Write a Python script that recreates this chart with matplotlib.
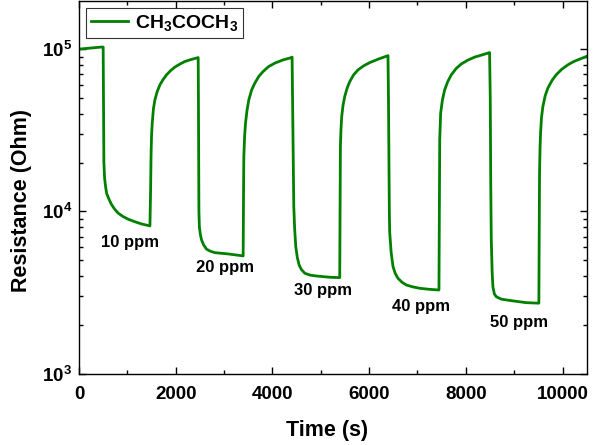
import matplotlib
matplotlib.use("Agg")
import matplotlib.pyplot as plt
from matplotlib.ticker import MultipleLocator, LogLocator, FixedLocator, FixedFormatter, NullFormatter

plt.rcParams["font.family"] = ["Liberation Sans", "DejaVu Sans"]
plt.rcParams["font.weight"] = "bold"
plt.rcParams["mathtext.fontset"] = "custom"
plt.rcParams["mathtext.rm"] = "Liberation Sans:bold"
plt.rcParams["mathtext.bf"] = "Liberation Sans:bold"
plt.rcParams["mathtext.it"] = "Liberation Sans:bold"

# Sensor response to acetone pulses (time in s, resistance in Ohm)
time_s = [
    0, 469, 500, 505, 510, 515, 530, 550, 572, 620, 675, 740, 812, 910, 1019, 1150, 1295, 1467,
    1480, 1490, 1500, 1515, 1540, 1570, 1620, 1673, 1740, 1812, 1900, 1983, 2090, 2190, 2330, 2465,
    2470, 2475, 2480, 2490, 2510, 2535, 2580, 2638, 2720, 2810, 3085, 3395,
    3400, 3405, 3409, 3425, 3444, 3475, 3512, 3570, 3636, 3720, 3808, 3920, 4050, 4220, 4394,
    4407, 4420, 4430, 4442, 4460, 4483, 4515, 4552, 4600, 4669, 4780, 4910, 5186, 5392,
    5398, 5402, 5406, 5418, 5433, 5460, 5495, 5545, 5599, 5680, 5770, 5890, 6012, 6200, 6390,
    6400, 6410, 6418, 6425, 6455, 6494, 6540, 6597, 6680, 6770, 6900, 7045, 7250, 7444,
    7450, 7455, 7460, 7479, 7515, 7562, 7625, 7700, 7800, 7907, 8040, 8182, 8330, 8491,
    8505, 8515, 8526, 8545, 8560, 8590, 8630, 8733, 8973, 9250, 9510,
    9517, 9524, 9535, 9545, 9565, 9593, 9640, 9696, 9780, 9869, 9980, 10109, 10230, 10351, 10490,
]
resistance = [
    1.00e5, 1.03e5, 1.03e5, 6.0e4, 3.0e4, 2.0e4, 1.6e4, 1.42e4, 1.29e4, 1.19e4, 1.10e4, 1.03e4,
    9.75e3, 9.3e3, 8.95e3, 8.65e3, 8.37e3, 8.14e3,
    1.3e4, 2.2e4, 2.9e4, 3.5e4, 4.3e4, 4.87e4, 5.5e4, 6.02e4, 6.5e4, 6.95e4, 7.4e4, 7.75e4,
    8.1e4, 8.39e4, 8.65e4, 8.87e4,
    5.0e4, 2.0e4, 1.0e4, 8.0e3, 7.2e3, 6.67e3, 6.2e3, 5.85e3, 5.68e3, 5.57e3, 5.47e3, 5.32e3,
    1.0e4, 1.6e4, 2.18e4, 2.9e4, 3.5e4, 4.2e4, 4.87e4, 5.6e4, 6.17e4, 6.8e4, 7.28e4, 7.8e4,
    8.2e4, 8.58e4, 8.87e4,
    8.93e4, 4.0e4, 2.0e4, 1.07e4, 7.8e3, 6.07e3, 5.2e3, 4.68e3, 4.38e3, 4.16e3, 4.05e3, 4.0e3,
    3.93e3, 3.91e3,
    8.0e3, 1.6e4, 2.51e4, 3.2e4, 3.84e4, 4.5e4, 5.1e4, 5.75e4, 6.31e4, 6.95e4, 7.45e4, 7.9e4,
    8.26e4, 8.7e4, 9.12e4,
    5.0e4, 2.0e4, 1.0e4, 7.5e3, 5.6e3, 4.57e3, 4.15e3, 3.87e3, 3.66e3, 3.52e3, 3.43e3, 3.36e3,
    3.31e3, 3.28e3,
    8.0e3, 1.8e4, 2.76e4, 4.03e4, 4.85e4, 5.61e4, 6.3e4, 6.95e4, 7.6e4, 8.1e4, 8.55e4, 8.93e4,
    9.2e4, 9.52e4,
    5.0e4, 1.5e4, 6.67e3, 4.16e3, 3.43e3, 3.1e3, 2.98e3, 2.88e3, 2.81e3, 2.74e3, 2.72e3,
    8.0e3, 1.72e4, 2.5e4, 3.03e4, 3.8e4, 4.43e4, 5.15e4, 5.75e4, 6.4e4, 6.95e4, 7.5e4, 8.0e4,
    8.38e4, 8.67e4, 9.0e4,
]

ppm_labels = ["10 ppm", "20 ppm", "30 ppm", "40 ppm", "50 ppm"]
label_t = [1054, 3015, 5041, 7065, 9093]
label_r = [6.4e3, 4.49e3, 3.24e3, 2.58e3, 2.08e3]

fig = plt.figure(figsize=(5.97, 4.45), dpi=100)
ax = fig.add_axes([0.1323, 0.1602, 0.8505, 0.8376])

ax.plot(time_s, resistance, color="#008000", lw=2.0, label="CH$_3$COCH$_3$")

for txt, t, r in zip(ppm_labels, label_t, label_r):
    ax.text(t, r, txt, ha="center", va="center", fontsize=12, fontweight="bold")

ax.set_yscale("log")
ax.set_xlim(0, 10500)
ax.set_ylim(1e3, 1.98e5)

ax.xaxis.set_major_locator(MultipleLocator(2000))
ax.xaxis.set_minor_locator(MultipleLocator(1000))
ax.yaxis.set_major_locator(FixedLocator([1e3, 1e4, 1e5]))
ax.yaxis.set_major_formatter(FixedFormatter([r"$10^{3}$", r"$10^{4}$", r"$10^{5}$"]))
ax.yaxis.set_minor_locator(LogLocator(base=10, subs=range(2, 10)))
ax.yaxis.set_minor_formatter(NullFormatter())

ax.tick_params(which="both", direction="in", top=True, right=True, width=1.0)
ax.tick_params(which="major", length=5, labelsize=13.5)
ax.tick_params(axis="x", which="major", pad=9)
ax.tick_params(axis="y", which="major", pad=5)
ax.tick_params(which="minor", length=3)
for lbl in ax.get_xticklabels():
    lbl.set_fontweight("bold")
for s in ax.spines.values():
    s.set_linewidth(1.0)

ax.set_xlabel("Time (s)", fontsize=15.5, fontweight="bold")
ax.set_ylabel("Resistance (Ohm)", fontsize=15.5, fontweight="bold")
ax.xaxis.set_label_coords(0.489, -0.125)
ax.yaxis.set_label_coords(-0.093, 0.466)

leg = ax.legend(loc="upper left", fontsize=14, frameon=True, fancybox=False,
                edgecolor="black", handlelength=1.9, borderpad=0.25,
                borderaxespad=0.35, handletextpad=0.4)
leg.get_frame().set_linewidth(0.8)

fig.savefig("out.png", dpi=100)
